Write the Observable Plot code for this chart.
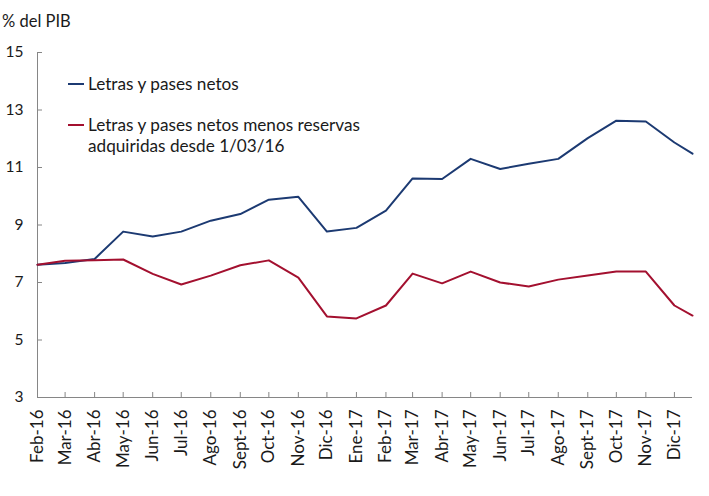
<!DOCTYPE html>
<html><head><meta charset="utf-8">
<script src="https://cdn.jsdelivr.net/npm/d3@7"></script>
<script src="https://cdn.jsdelivr.net/npm/@observablehq/plot@0.6"></script>
<style>
body{margin:0;background:#fff;}
#wrap{position:relative;width:709px;height:496px;font-family:Lato,"Open Sans",sans-serif;color:#1a1a1a;overflow:hidden;}
#unit{position:absolute;left:2px;top:11px;font-size:16.5px;}
.leg{position:absolute;display:flex;align-items:flex-start;font-size:17.2px;line-height:21px;}
.leg .sw{flex:none;width:16px;height:2px;margin-top:10px;margin-right:4px;}
</style></head><body>
<div id="wrap"><div id="chart"></div>
<div id="unit">% del PIB</div>
</div>
<script>
const dates = ["2016-02-01","2016-03-01","2016-04-01","2016-05-01","2016-06-01","2016-07-01","2016-08-01","2016-09-01","2016-10-01","2016-11-01","2016-12-01","2017-01-01","2017-02-01","2017-03-01","2017-04-01","2017-05-01","2017-06-01","2017-07-01","2017-08-01","2017-09-01","2017-10-01","2017-11-01","2017-12-01","2017-12-20"];
const monthLabels = ["Feb-16","Mar-16","Abr-16","May-16","Jun-16","Jul-16","Ago-16","Sept-16","Oct-16","Nov-16","Dic-16","Ene-17","Feb-17","Mar-17","Abr-17","May-17","Jun-17","Jul-17","Ago-17","Sept-17","Oct-17","Nov-17","Dic-17"];
const letrasPases = [7.62,7.68,7.82,8.77,8.6,8.77,9.15,9.38,9.88,9.98,8.77,8.9,9.5,10.62,10.6,11.3,10.95,11.13,11.3,12.02,12.63,12.6,11.87,11.48];
const menosReservas = [7.62,7.76,7.77,7.8,7.3,6.93,7.24,7.6,7.77,7.17,5.82,5.75,6.2,7.31,6.97,7.38,7.0,6.86,7.1,7.24,7.38,7.38,6.2,5.85];
const yTicks = [3,5,7,9,11,13,15];
const seriesNames = ["Letras y pases netos","Letras y pases netos menos reservas adquiridas desde 1/03/16"];
const colors = ["#1c3a72","#a3102f"];

const parsed = dates.map(d => new Date(d + "T00:00:00Z"));
const tickDates = parsed.slice(0, monthLabels.length);
const labelByTime = new Map(tickDates.map((d,i)=>[+d, monthLabels[i]]));
const data = parsed.map((d,i)=>({date:d, a:letrasPases[i], b:menosReservas[i]}));
const axisColor = "#868686";

const chart = Plot.plot({
  width:709, height:496,
  marginTop:52, marginBottom:99, marginLeft:37, marginRight:17,
  style:{fontFamily:'Lato,"Open Sans",sans-serif', fontSize:"15px", color:"#1a1a1a", background:"#fff"},
  x:{type:"utc", domain:[parsed[0], parsed[parsed.length-1]]},
  y:{domain:[3,15]},
  marks:[
    Plot.axisY(yTicks,{tickSize:0, tickPadding:14, label:null, fontSize:15.5}),
    Plot.axisY(yTicks,{tickSize:5, dx:5, fill:"none", stroke:axisColor, label:null}),
    Plot.axisX(tickDates,{tickSize:0, tickRotate:-90, tickPadding:12, label:null, fontSize:17, tickFormat:d=>labelByTime.get(+d)}),
    Plot.axisX(tickDates,{tickSize:5, dy:-5, fill:"none", stroke:axisColor, label:null}),
    Plot.ruleX([parsed[0]],{stroke:axisColor}),
    Plot.ruleY([3],{stroke:axisColor}),
    Plot.line(data,{x:"date", y:"a", stroke:colors[0], strokeWidth:2}),
    Plot.line(data,{x:"date", y:"b", stroke:colors[1], strokeWidth:2})
  ]
});
document.getElementById("chart").appendChild(chart);

const wrap = document.getElementById("wrap");
const legPos = [[68,73],[68,114]];
const legTexts = ["Letras y pases netos","Letras y pases netos menos reservas<br>adquiridas desde 1/03/16"];
seriesNames.forEach((n,i)=>{
  const div = document.createElement("div");
  div.className="leg";
  div.style.left = legPos[i][0]+"px";
  div.style.top = legPos[i][1]+"px";
  div.innerHTML = `<span class="sw" style="background:${colors[i]}"></span><span>${legTexts[i]}</span>`;
  wrap.appendChild(div);
});
</script>
</body></html>
